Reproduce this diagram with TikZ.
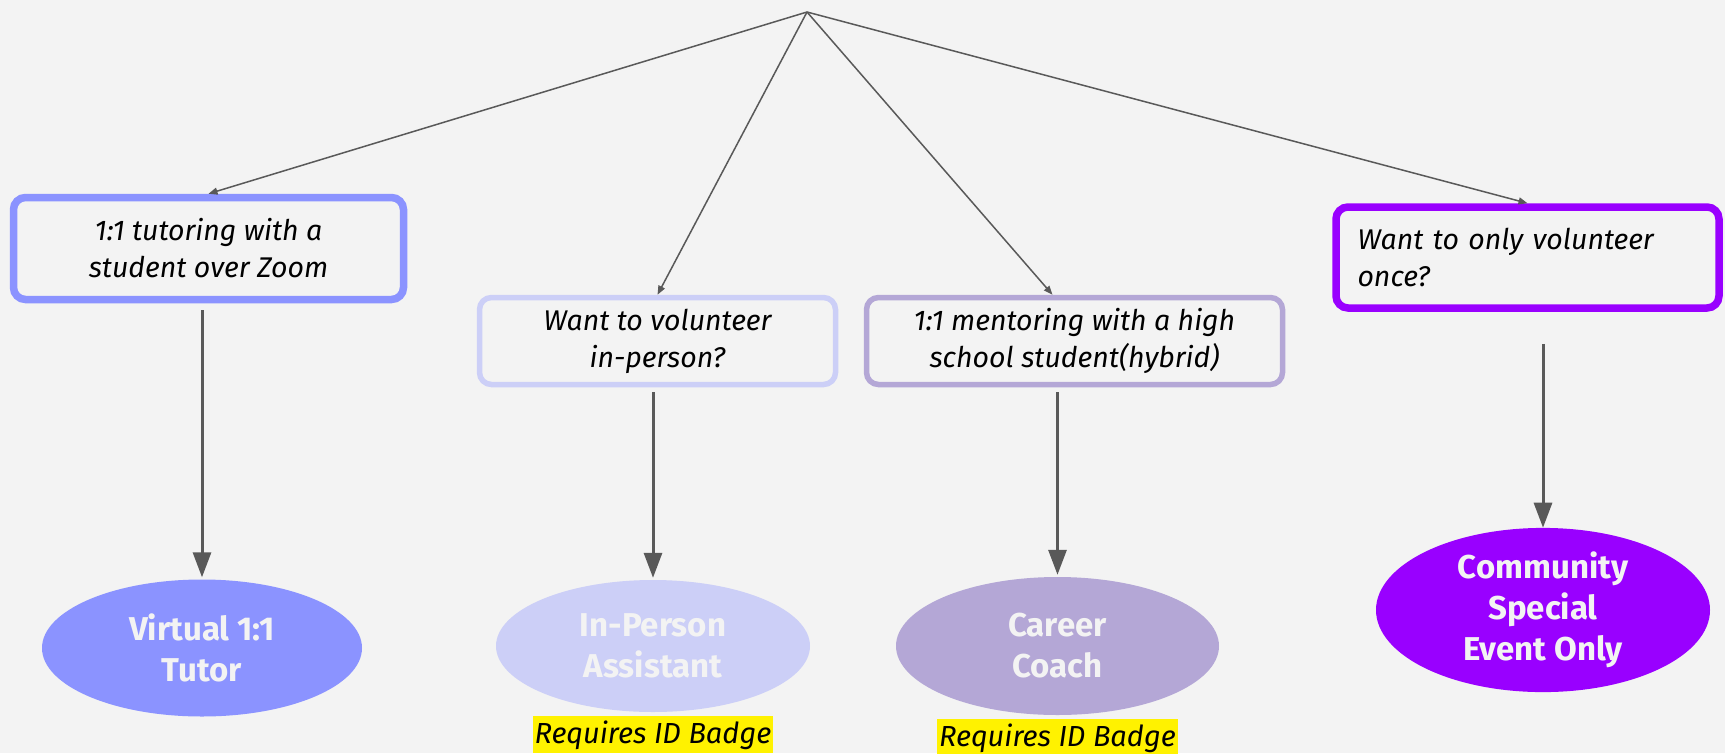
\documentclass[tikz,border=0pt]{standalone}
\usepackage{fontspec}
\setmainfont{Fira Sans}
\usetikzlibrary{shapes.geometric,arrows.meta,positioning}
\definecolor{paper}{HTML}{F3F3F3}
\definecolor{linegray}{HTML}{595959}
\definecolor{tutorblue}{HTML}{8B93FF}
\definecolor{assistlilac}{HTML}{CCCFF7}
\definecolor{coachpurple}{HTML}{B4A7D6}
\definecolor{eventviolet}{HTML}{9900FF}
\tikzset{%
	question/.style = {draw, rounded corners=12pt, fill=paper, align=center, inner sep=0pt,
		font=\itshape\fontsize{28.5}{37}\selectfont}, % Question box
	role/.style     = {ellipse, inner sep=0pt, text=paper, align=center,
		font=\bfseries\fontsize{33}{41}\selectfont}, % Role
	badge/.style    = {fill=yellow, inner xsep=2pt, inner ysep=4pt,
		font=\itshape\fontsize{29}{30}\selectfont}, % Note
	branch/.style   = {draw=linegray, line width=1.5pt, -{Triangle[length=9pt,width=7pt]}},
	down/.style     = {draw=linegray, line width=3pt, -{Triangle[length=25pt,width=18pt]}}
}

\begin{document}
\begin{tikzpicture}[x=1pt,y=-1pt]
			\fill[paper] (0,0) rectangle (1725,753);
			\useasboundingbox (0,0) rectangle (1725,753);

			\coordinate (top) at (807,12);
			\node[question, draw=tutorblue,   line width=7.5pt, minimum width=390pt, minimum height=102pt]
				(tutorQ)  at (208.5,248.5) {1:1 tutoring with a\\student over Zoom};
			\node[question, draw=assistlilac, line width=5.5pt, minimum width=356pt, minimum height=87pt]
				(assistQ) at (657.5,341)   {Want to volunteer\\in-person?};
			\node[question, draw=coachpurple, line width=5.5pt, minimum width=416pt, minimum height=87pt]
				(coachQ)  at (1074.5,341)  {1:1 mentoring with a high\\school student(hybrid)};
			\node[question, draw=eventviolet, line width=7.5pt, minimum width=383pt, minimum height=101pt,
				align=left, text width=340pt]
				(eventQ)  at (1527.5,257.5) {Want to only volunteer\\once?};

			\node[role, fill=tutorblue,   minimum width=320pt, minimum height=137pt] (tutor)  at (202,648)    {Virtual 1:1\\Tutor};
			\node[role, fill=assistlilac, minimum width=314pt, minimum height=132pt] (assist) at (653,646)    {In-Person\\Assistant};
			\node[role, fill=coachpurple, minimum width=323pt, minimum height=138pt] (coach)  at (1057.5,646) {Career\\Coach};
			\node[role, fill=eventviolet, minimum width=334pt, minimum height=146pt] (event)  at (1543,610)   {Community\\Special\\Event Only};

			\node[badge, below=4pt of assist] (assistBadge) {Requires ID Badge};
			\node[badge, below=4pt of coach]  (coachBadge)  {Requires ID Badge};

			\draw[branch] (top) -- (tutorQ.north);
			\draw[branch] (top) -- (assistQ.north);
			\draw[branch] (top) -- ([xshift=-22pt]coachQ.north);
			\draw[branch] (top) -- (eventQ.north);

			\draw[down, shorten <=7pt,  shorten >=2pt] (tutor.north |- tutorQ.south)   -- (tutor.north);
			\draw[down, shorten <=5pt,  shorten >=2pt] (assist.north |- assistQ.south) -- (assist.north);
			\draw[down, shorten <=5pt,  shorten >=2pt] (coach.north |- coachQ.south)   -- (coach.north);
			\draw[down, shorten <=32pt, shorten >=0pt] (event.north |- eventQ.south)   -- (event.north);
\end{tikzpicture}
\end{document}
